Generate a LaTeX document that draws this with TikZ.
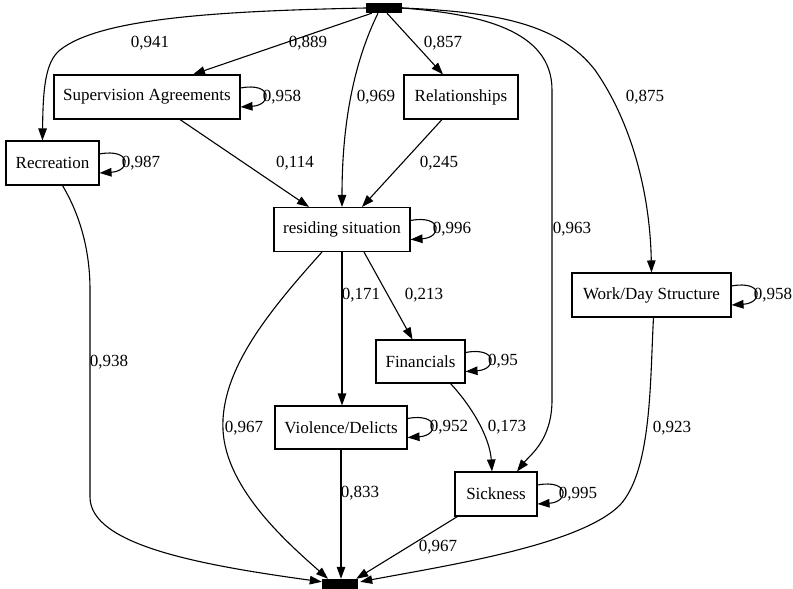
\documentclass[tikz,border=0pt]{standalone}
\usepackage{fontspec}
\setmainfont{Liberation Serif}
\usetikzlibrary{arrows.meta,calc}
\begin{document}
\begin{tikzpicture}[x=1pt,y=-1pt,
  box/.style={draw,line width=1.1pt,inner sep=0pt,minimum height=44pt,
    font=\fontsize{17}{20}\selectfont},
  bar/.style={fill=black,draw=none,inner sep=0pt,minimum width=36pt,minimum height=10pt},
  edge/.style={line width=1.1pt,-{Triangle[length=12pt,width=8.5pt]}},
  wt/.style={font=\fontsize{17}{20}\selectfont,inner sep=0pt}]
\useasboundingbox (0,0) rectangle (793,589);

% source and sink bars
\node[bar] (src) at (384,8) {};
\node[bar] (snk) at (340,584) {};

% state boxes
\node[box,minimum width=186pt] (sup) at (147,97) {Supervision Agreements};
\node[box,minimum width=93pt]  (rec) at (52.5,163) {Recreation};
\node[box,minimum width=114pt] (rel) at (461,97) {Relationships};
\node[box,minimum width=136pt] (res) at (342,229.5) {residing situation};
\node[box,minimum width=89pt,minimum height=43pt]  (fin) at (420.5,361.5) {Financials};
\node[box,minimum width=132pt,minimum height=43pt] (vio) at (341,427.5) {Violence/Delicts};
\node[box,minimum width=82pt]  (sick) at (496,494) {Sickness};
\node[box,minimum width=159pt] (wds) at (651.5,295) {Work/Day Structure};

% edges leaving the source
\draw[edge] (src.west) .. controls (220,11) and (100,18) .. (60,50)
  .. controls (45,62) and (43,90) .. ($(rec.north west)+(37,0)$);
\draw[edge] ($(src.south west)+(6,0)$) -- ($(sup.north)+(46,0)$);
\draw[edge] ($(src.south)+(-6,0)$) .. controls (355,60) and (342,120) .. (res.north);
\draw[edge] ($(src.south)+(3,0)$) -- ($(rel.north)+(-18,0)$);
\draw[edge] (src.east) .. controls (480,14) and (552,30) .. (552,90) -- (552,400)
  .. controls (552,440) and (530,455) .. ($(sick.north)+(21,0)$);
\draw[edge] (src.east) .. controls (500,12) and (560,25) .. (595,70)
  .. controls (630,120) and (650,190) .. (wds.north);

% edges between states
\draw[edge] ($(sup.south)+(33,0)$) -- ($(res.north)+(-33,0)$);
\draw[edge] ($(rel.south)+(-19,0)$) -- ($(res.north)+(20,0)$);
\draw[edge] (res.south) -- (res.south |- vio.north);
\draw[edge] ($(res.south)+(22,0)$) -- ($(fin.north)+(-8,0)$);
\draw[edge] ($(fin.south)+(30,0)$) .. controls (475,410) and (490,440) .. ($(sick.north)+(-4,0)$);

% edges into the sink
\draw[edge] ($(rec.south)+(10,0)$) .. controls (80,215) and (90,250) .. (90,290) -- (90,497)
  .. controls (90,545) and (200,565) .. ($(snk.north west)+(0,3)$);
\draw[edge] ($(res.south)+(-20,0)$) .. controls (270,310) and (220,370) .. (223,430)
  .. controls (226,490) and (290,545) .. ($(snk.north)+(-12,0)$);
\draw[edge] (vio.south) -- (vio.south |- snk.north);
\draw[edge] ($(sick.south west)+(3,0)$) -- ($(snk.north east)+(-2,0)$);
\draw[edge] ($(wds.south)+(2,0)$) .. controls (650,380) and (652,470) .. (620,505)
  .. controls (580,545) and (450,565) .. ($(snk.north east)+(2,3)$);

% self loops
\foreach \n in {sup,rec,res,fin,vio,sick,wds}{
  \draw[edge] ($(\n.east)+(0,-9)$) .. controls +(32,-6) and +(32,-2) .. ($(\n.east)+(0,10)$);
}

% edge weights
\node[wt] (w1)  at (150,43)  {0,941};
\node[wt] (w2)  at (308,43)  {0,889};
\node[wt] (w3)  at (443,43)  {0,857};
\node[wt] (w4)  at (376,97)  {0,969};
\node[wt] (w5)  at (645,97)  {0,875};
\node[wt] (w6)  at (282,97)  {0,958};
\node[wt] (w7)  at (141,163) {0,987};
\node[wt] (w8)  at (295,163) {0,114};
\node[wt] (w9)  at (439,163) {0,245};
\node[wt] (w10) at (452,229) {0,996};
\node[wt] (w11) at (572,229) {0,963};
\node[wt] (w12) at (361,295) {0,171};
\node[wt] (w13) at (424,295) {0,213};
\node[wt] (w14) at (773,295) {0,958};
\node[wt] (w15) at (109,362) {0,938};
\node[wt] (w16) at (503,361) {0,95};
\node[wt] (w17) at (244,428) {0,967};
\node[wt] (w18) at (449,427) {0,952};
\node[wt] (w19) at (507,427) {0,173};
\node[wt] (w20) at (672,428) {0,923};
\node[wt] (w21) at (360,493) {0,833};
\node[wt] (w22) at (578,494) {0,995};
\node[wt] (w23) at (438,547) {0,967};
\end{tikzpicture}
\end{document}
